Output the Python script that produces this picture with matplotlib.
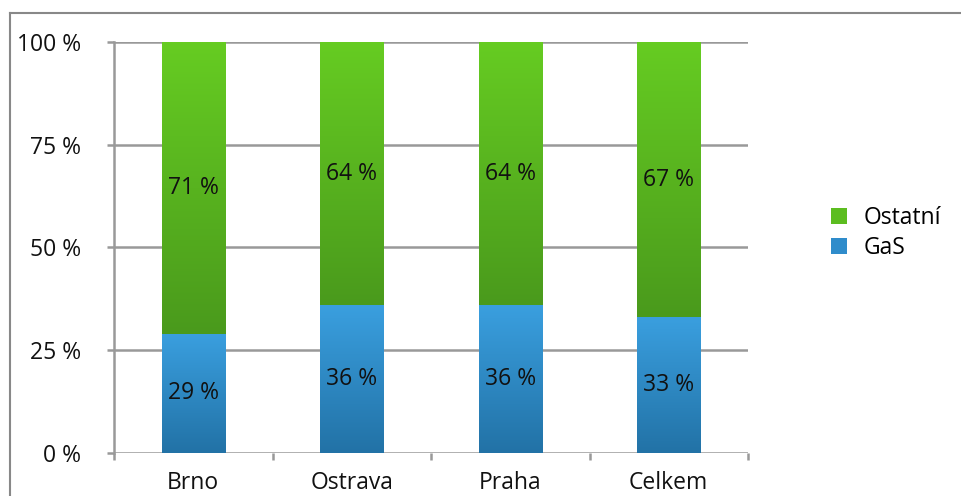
import numpy as np
import matplotlib
matplotlib.use("Agg")
import matplotlib.pyplot as plt
from matplotlib.colors import LinearSegmentedColormap
from matplotlib.lines import Line2D
from matplotlib.patches import Patch

plt.rcParams['font.family'] = ['Open Sans', 'DejaVu Sans']

categories = ['Brno', 'Ostrava', 'Praha', 'Celkem']
gas = [29, 36, 36, 33]
ostatni = [71, 64, 64, 67]
yticks = [0, 25, 50, 75, 100]
ytick_labels = ['0 %', '25 %', '50 %', '75 %', '100 %']

FS = 16.5
fig = plt.figure(figsize=(9.61, 4.96), dpi=100)
ax = fig.add_axes([114 / 961, 1 - 453 / 496, 634 / 961, 411 / 496])

x = np.arange(len(categories))
grid_c = '#999999'

ax.set_xlim(-0.5, len(categories) - 0.5)
ax.set_ylim(0, 100)
ax.set_yticks(yticks)
ax.set_yticklabels(ytick_labels, fontsize=FS, color='#111111')
for yv in yticks:
    ax.axhline(yv, color=grid_c, lw=1.8, zorder=1)
for s in ['top', 'right', 'bottom']:
    ax.spines[s].set_visible(False)
ax.spines['left'].set_color(grid_c)
ax.spines['left'].set_linewidth(1.8)
ax.tick_params(axis='y', length=5, width=1.8, color=grid_c, pad=19)
ax.set_xticks(x)
ax.set_xticklabels(categories, fontsize=FS, color='#111111')
ax.tick_params(axis='x', length=0, pad=13)
ax.set_xticks(np.arange(len(categories) + 1) - 0.5, minor=True)
ax.tick_params(axis='x', which='minor', length=5, width=1.8, color=grid_c)

green_cmap = LinearSegmentedColormap.from_list('g', ['#4a9a1c', '#66cc22'])
blue_cmap = LinearSegmentedColormap.from_list('b', ['#2272a6', '#3a9fdf'])

w = 0.4
b1 = ax.bar(x, gas, w, color='#2f8ccb', zorder=3)
b2 = ax.bar(x, ostatni, w, bottom=gas, color='#58b31f', zorder=3)

# vertical gradient on each bar, clipped to the bar shape
grad = np.linspace(0, 1, 256).reshape(-1, 1)
for bars, cmap in [(b1, blue_cmap), (b2, green_cmap)]:
    for p in bars:
        x0, y0, bw, bh = p.get_x(), p.get_y(), p.get_width(), p.get_height()
        im = ax.imshow(grad, cmap=cmap, origin='lower', aspect='auto',
                       extent=(x0, x0 + bw, y0, y0 + bh), zorder=4)
        im.set_clip_path(p)

ax.set_xlim(-0.5, len(categories) - 0.5)
ax.set_ylim(0, 100)

for i in range(len(categories)):
    ax.text(x[i], gas[i] / 2, f'{gas[i]} %', ha='center', va='center',
            fontsize=FS, color='#111111', zorder=5)
    ax.text(x[i], gas[i] + ostatni[i] / 2, f'{ostatni[i]} %', ha='center',
            va='center', fontsize=FS, color='#111111', zorder=5)

handles = [Patch(facecolor='#5cbd20', edgecolor='none', label='Ostatní'),
           Patch(facecolor='#2f8ccb', edgecolor='none', label='GaS')]
fig.legend(handles=handles, loc='center left', bbox_to_anchor=(810 / 961, 1 - 233 / 496),
           frameon=False, fontsize=FS, handlelength=0.7, handleheight=0.7,
           handletextpad=0.75, labelspacing=0.3)

fig.add_artist(Line2D([10 / 961, 1.0], [1 - 13 / 496, 1 - 13 / 496],
                      transform=fig.transFigure, color='#888888', lw=1.5))
fig.add_artist(Line2D([10 / 961, 10 / 961], [0, 1 - 13 / 496],
                      transform=fig.transFigure, color='#888888', lw=1.5))

fig.savefig('out.png', dpi=100)
